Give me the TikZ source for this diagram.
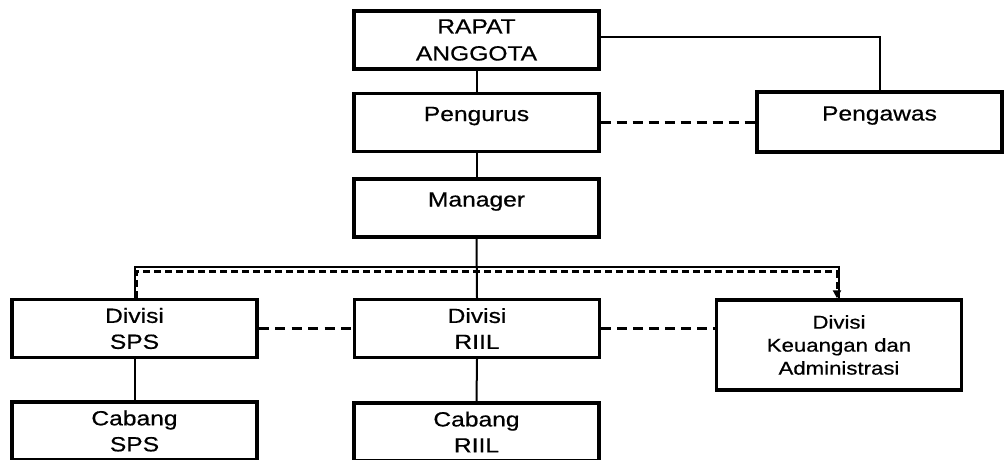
\documentclass[tikz,border=0pt]{standalone}
\usepackage{fontspec}
\setmainfont[FakeStretch=1.2, FakeBold=0.6]{Liberation Sans}
\usetikzlibrary{arrows.meta}
\begin{document}
\begin{tikzpicture}[x=1pt,y=-1pt,
  box/.style={draw, line width=3.4pt, minimum width=245pt, minimum height=58pt,
    inner sep=0pt, align=center, font=\fontsize{20.5}{26}\selectfont},
  single/.style={text height=15pt, text depth=18pt},
  link/.style={line width=2pt},
  dashA/.style={line width=3.4pt, dash pattern=on 10pt off 6pt},
  dashB/.style={line width=2.2pt, dash pattern=on 10pt off 6.5pt},
  dashC/.style={line width=3pt, dash pattern=on 7pt off 4pt}]
\useasboundingbox (0,0) rectangle (1005,459);

% boxes
\node[box, font=\fontsize{20.5}{27}\selectfont] (ra) at (476.5,40) {RAPAT\\ANGGOTA};
\node[box, single] (pus) at (476.5,122.5) {Pengurus};
\node[box, single] (mgr) at (476.5,208) {Manager};
\node[box, single, minimum height=60pt] (paw) at (879.5,122) {Pengawas};
\node[box] (sps) at (134.5,328.5) {Divisi\\SPS};
\node[box] (riil) at (477,328.5) {Divisi\\RIIL};
\node[box, minimum height=90pt, font=\fontsize{18.5}{23}\selectfont] (keu) at (839,345)
  {Divisi\\Keuangan dan\\Administrasi};
\node[box] (csps) at (134.5,431) {Cabang\\SPS};
\node[box] (criil) at (476.5,432) {Cabang\\RIIL};

% helper points for the branch bus
\coordinate (busR) at (839,267);
\coordinate (dbusR) at (837,271.5);
\coordinate (rkL) at (riil.east);

% solid chain
\draw[link] (ra.south) -- (pus.north);
\draw[link] (pus.south) -- (mgr.north);
\draw[link] (ra.east |- 0,37) -| (paw.north);
\draw[link] (mgr.south) -- (riil.north);
\draw[link] (sps.north) |- (busR) -- (keu.north);
\draw[link] (sps.south) -- (csps.north);
\draw[link] (riil.south) -- (criil.north);

% dashed relations
\draw[dashA] (pus.east) -- (paw.west |- pus.east);
\draw[dashB] (sps.east) -- (riil.west |- sps.east);
\draw[dashA] (rkL) -- (keu.west |- rkL);
\draw[dashC, -{Triangle[width=8pt,length=8pt]}]
  ([xshift=2pt]sps.north) |- (dbusR) -- (dbusR |- keu.north);
\end{tikzpicture}
\end{document}
